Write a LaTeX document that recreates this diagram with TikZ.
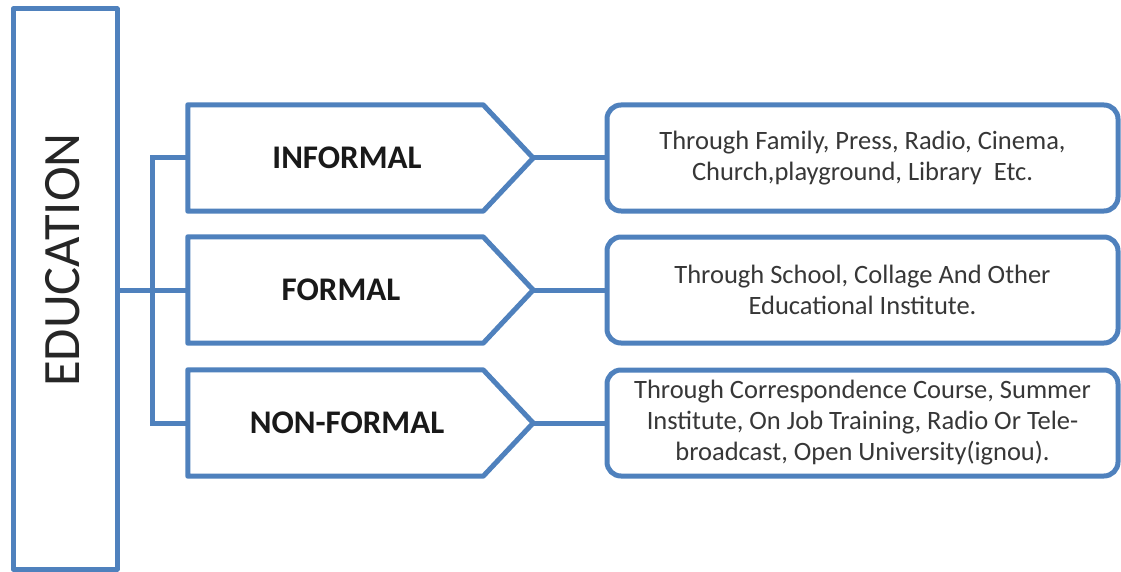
\documentclass[tikz,border=0pt]{standalone}
\usepackage{fontspec}
\setmainfont{Carlito}
\usetikzlibrary{calc}
\definecolor{edublue}{RGB}{79,129,189}
\definecolor{txtgray}{RGB}{55,55,55}
\tikzset{
  x=1pt, y=-1pt,
  box/.style={draw=edublue, line width=5pt, fill=white, line join=round},
  conn/.style={draw=edublue, line width=5pt},
  body/.style={draw=none, minimum width=295pt, minimum height=106pt, inner sep=0pt},
  lbl/.style={font=\fontsize{33}{38}\selectfont\bfseries, text=black!90, inner sep=0pt},
  desc/.style={box, rounded corners=14pt, minimum width=511pt, minimum height=106pt,
    align=center, text=txtgray, font=\fontsize{26.5}{31}\selectfont, inner sep=0pt},
}
\begin{document}
\begin{tikzpicture}
\useasboundingbox (0,0) rectangle (1121,572);
% EDUCATION column
\node[box, minimum width=104pt, minimum height=560pt, inner sep=0pt] (edu) at (65,289) {};
\node[rotate=90, font=\fontsize{52.5}{60}\selectfont, text=black!85, inner sep=0pt] (edutxt) at (63,260) {EDUCATION};
% pentagon bodies
\node[body] (inf) at (335.5,158) {};
\node[body] (fo)  at (335.5,290) {};
\node[body] (nf)  at (335.5,423) {};
\foreach \n in {inf,fo,nf}{
  \coordinate (\n tip) at ($(\n.east)+(50,0)$);
  \draw[box] (\n.north west) -- (\n.north east) -- (\n tip) -- (\n.south east) -- (\n.south west) -- cycle;
}
\node[lbl] (inflbl) at (347,158) {INFORMAL};
\node[lbl] (folbl)  at (341,290) {FORMAL};
\node[lbl] (nflbl)  at (347,423) {NON-FORMAL};
% description boxes
\node[desc] (infd) at (862.5,158) {Through Family, Press, Radio, Cinema,\\Church,playground, Library\ \ Etc.};
\node[desc] (fod)  at (862.5,290) {Through School, Collage And Other\\Educational Institute.};
\node[desc] (nfd)  at (862.5,423) {Through Correspondence Course, Summer\\Institute, On Job Training, Radio Or Tele-\\broadcast, Open University(ignou).};
% connectors
\draw[conn] (edu.east |- fo.west) -- (fo.west);
\draw[conn] (inf.west) -- ++(-35,0) |- (nf.west);
\draw[conn] (inftip) -- (infd.west);
\draw[conn] (fotip) -- (fod.west);
\draw[conn] (nftip) -- (nfd.west);
\end{tikzpicture}
\end{document}
